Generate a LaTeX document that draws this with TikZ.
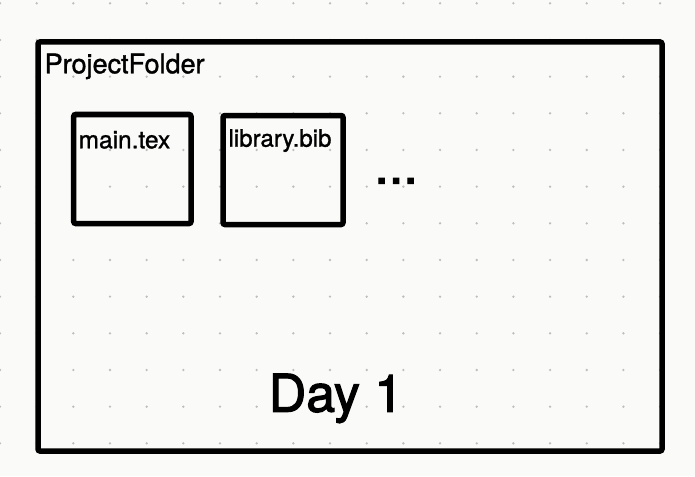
\documentclass[tikz,border=0pt]{standalone}
\usepackage{fontspec}
\setmainfont{TeX Gyre Heros}[FakeBold=1.2]
\newfontfamily\heavyfont{TeX Gyre Heros}[FakeBold=2.2]
\definecolor{paper}{RGB}{250,250,248}
\definecolor{griddot}{RGB}{190,190,190}

\begin{document}
\begin{tikzpicture}[x=1pt,y=-1pt,
        frame/.style={draw=black,line width=5.5pt,rounded corners=2pt},
        caption/.style={anchor=base west,inner sep=0pt,text=black}
    ]
    \fill[paper] (0,0) rectangle (695,476);
    \useasboundingbox (0,0) rectangle (695,476);
    \foreach \i in {0,...,18}
        \foreach \j in {0,...,12}
            \fill[griddot] (\i*36.67,3.3+\j*36.67) circle (1.3);
    % folder and its files
    \draw[frame] (38,42) rectangle (662,451);
    \draw[frame] (73.7,114.5) rectangle (191,223.5);
    \draw[frame] (223,115.5) rectangle (343,224.5);
    \node[caption,font=\fontsize{27}{30}\selectfont] (folder) at (44.5,73.3) {ProjectFolder};
    \node[caption,font=\fontsize{24.5}{28}\selectfont] (maintex) at (78.4,148.3) {main.tex};
    \node[caption,font=\fontsize{24}{28}\selectfont] (bib) at (228.4,146.7) {library.bib};
    \node[caption,font=\heavyfont\fontsize{52}{52}\selectfont] (more) at (374.2,183.5) {...};
    \node[caption,font=\heavyfont\fontsize{52}{56}\selectfont] (day) at (268.5,411.7) {Day 1};
\end{tikzpicture}
\end{document}
